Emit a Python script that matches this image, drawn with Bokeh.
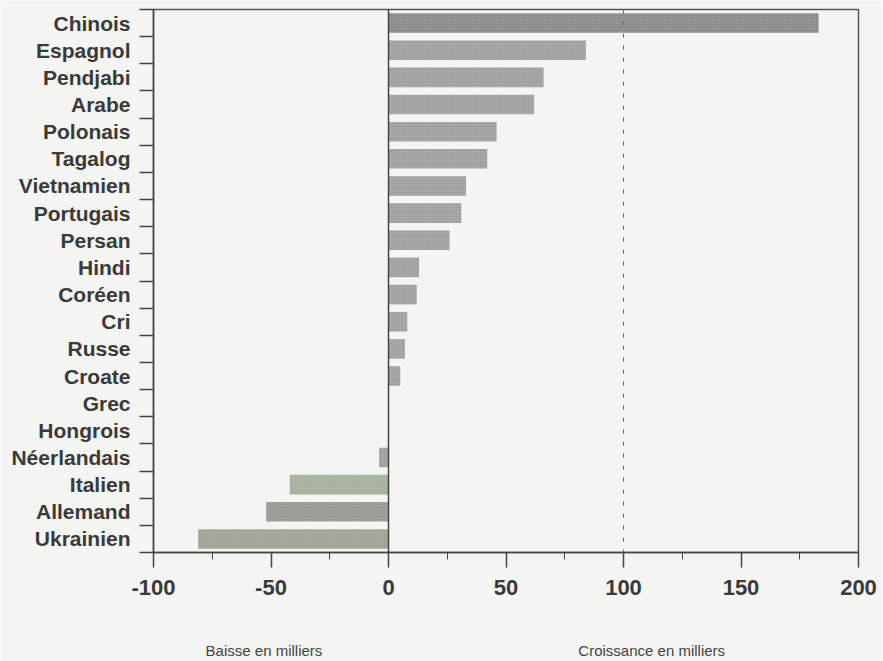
from bokeh.plotting import figure
from bokeh.models import Range1d, FixedTicker, Span, LinearAxis, ColumnDataSource
from bokeh.embed import file_html
from bokeh.resources import INLINE

languages = ["Chinois", "Espagnol", "Pendjabi", "Arabe", "Polonais", "Tagalog",
             "Vietnamien", "Portugais", "Persan", "Hindi", "Coréen", "Cri", "Russe",
             "Croate", "Grec", "Hongrois", "Néerlandais", "Italien", "Allemand", "Ukrainien"]
change_thousands = [183, 84, 66, 62, 46, 42, 33, 31, 26, 13, 12, 8, 7, 5, 0, 0, -4, -42, -52, -81]
x_ticks = [-100, -50, 0, 50, 100, 150, 200]
x_tick_labels = ["-100", "-50", "0", "50", "100", "150", "200"]
x_minor_ticks = [-75, -25, 25, 75, 125, 175]
axis_titles = ["Baisse en milliers", "Croissance en milliers"]
axis_title_at = [-53, 112]

positions = list(range(len(languages)))
bar_colors = ["#8a8a86"] + ["#a0a09c"] * 16 + ["#a6b09e", "#989894", "#9ea498"]

src = ColumnDataSource(dict(y=positions, right=change_thousands, color=bar_colors))

BG = "#f4f4f2"
AX = "#444444"

p = figure(frame_width=705, frame_height=543, min_border_left=153, min_border_right=24,
           min_border_top=9, min_border_bottom=108,
           x_range=Range1d(-100, 200), y_range=Range1d(len(languages) - 0.5, -0.5),
           output_backend="svg", toolbar_location=None,
           background_fill_color=BG, border_fill_color=BG)

p.hbar(y="y", right="right", left=0, height=0.72, source=src, fill_color="color",
       line_color=None, hatch_pattern="dot", hatch_color="#cfcfcb", hatch_scale=3,
       hatch_alpha=0.5)

p.xgrid.visible = False
p.ygrid.visible = False
p.outline_line_color = "#555555"
p.outline_line_width = 1.5

# x axis
xa = p.xaxis[0]
xa.ticker = FixedTicker(ticks=x_ticks, minor_ticks=x_minor_ticks)
xa.major_label_overrides = {t: s for t, s in zip(x_ticks, x_tick_labels)}
xa.axis_line_color = AX
xa.axis_line_width = 1.5
xa.major_tick_line_color = AX
xa.major_tick_line_width = 1.5
xa.major_tick_in = 0
xa.major_tick_out = 15
xa.minor_tick_line_color = AX
xa.minor_tick_in = 0
xa.minor_tick_out = 7
xa.major_label_standoff = 12
xa.major_label_text_font = "Liberation Sans"
xa.major_label_text_font_style = "bold"
xa.major_label_text_font_size = "22px"
xa.major_label_text_color = "#3a3a3a"

# secondary bottom axis carrying the two titles
ta = LinearAxis(ticker=FixedTicker(ticks=axis_title_at, minor_ticks=[]),
                major_label_overrides={t: s for t, s in zip(axis_title_at, axis_titles)})
ta.axis_line_color = None
ta.major_tick_line_color = None
ta.minor_tick_line_color = None
ta.major_tick_out = 0
ta.major_tick_in = 0
ta.major_label_standoff = 44
ta.major_label_text_font = "Liberation Sans"
ta.major_label_text_font_size = "15px"
ta.major_label_text_color = "#444444"
p.add_layout(ta, "below")

# y axis
ya = p.yaxis[0]
ya.ticker = FixedTicker(ticks=positions, minor_ticks=[i - 0.5 for i in range(len(languages) + 1)])
ya.major_label_overrides = {i: name for i, name in enumerate(languages)}
ya.axis_line_color = AX
ya.axis_line_width = 1.5
ya.major_tick_in = 0
ya.major_tick_out = 0
ya.major_tick_line_color = None
ya.minor_tick_line_color = AX
ya.minor_tick_line_width = 1.5
ya.minor_tick_in = 0
ya.minor_tick_out = 14
ya.major_label_standoff = 9
ya.major_label_text_font = "Liberation Sans"
ya.major_label_text_font_style = "bold"
ya.major_label_text_font_size = "21px"
ya.major_label_text_color = "#3a3a3a"

p.add_layout(Span(location=0, dimension="height", line_color=AX, line_width=1.5))
p.add_layout(Span(location=100, dimension="height", line_color="#666666", line_width=1,
                  line_dash="4 8"))

open("out.html", "w").write(file_html(p, INLINE))
